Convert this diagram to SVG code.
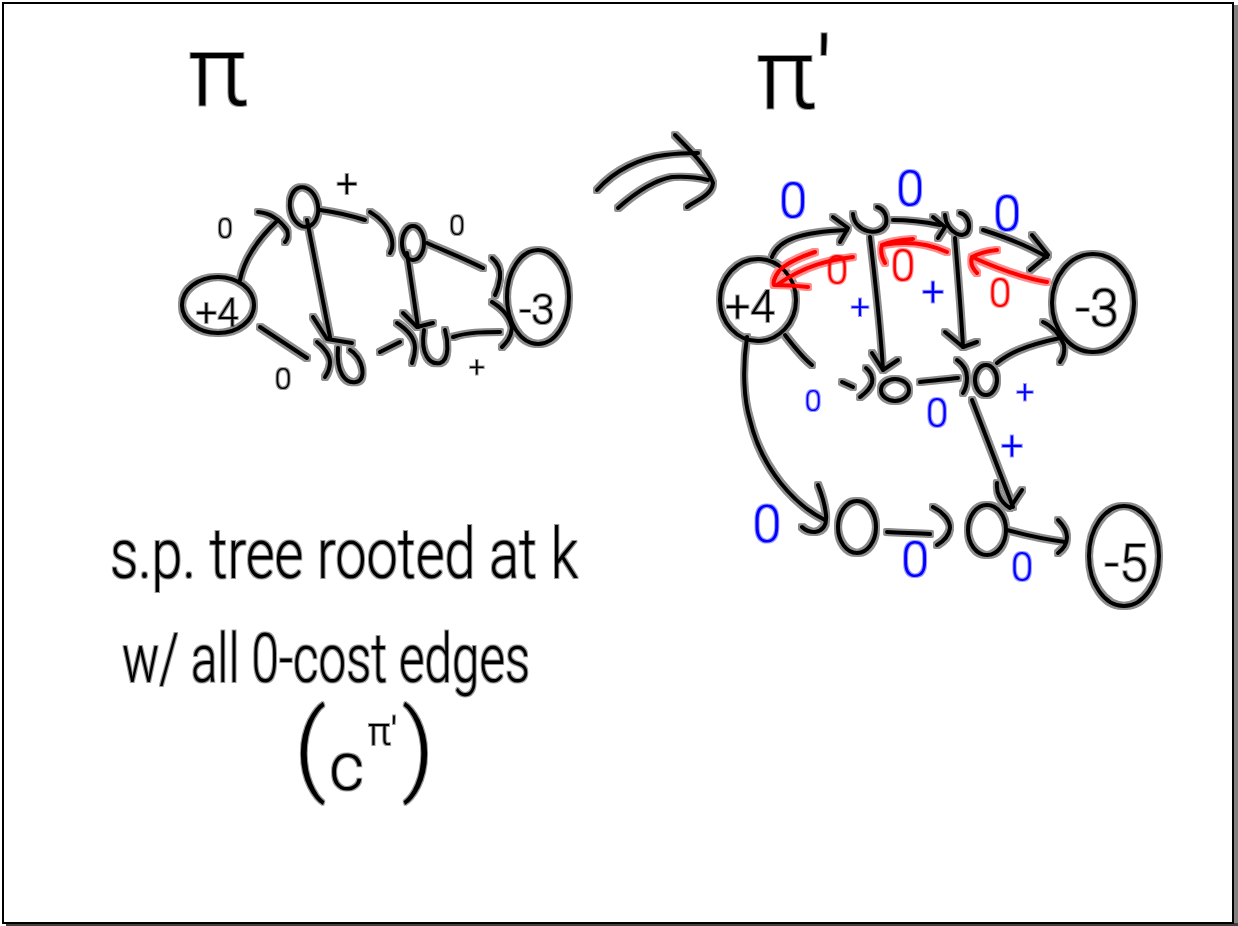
<svg xmlns="http://www.w3.org/2000/svg" width="1238" height="926" viewBox="0 0 1238 926">
<defs>
<filter id="halo" filterUnits="userSpaceOnUse" x="0" y="0" width="1238" height="926">
<feMorphology in="SourceGraphic" operator="dilate" radius="2" result="d"/>
<feComponentTransfer in="d" result="h"><feFuncA type="linear" slope="0.45"/></feComponentTransfer>
<feMerge><feMergeNode in="h"/><feMergeNode in="SourceGraphic"/></feMerge>
</filter>
<filter id="thalo" filterUnits="userSpaceOnUse" x="0" y="0" width="1238" height="926">
<feMorphology in="SourceGraphic" operator="dilate" radius="1.2" result="d"/>
<feComponentTransfer in="d" result="h"><feFuncA type="linear" slope="0.4"/></feComponentTransfer>
<feMerge><feMergeNode in="h"/><feMergeNode in="SourceGraphic"/></feMerge>
</filter>
</defs>
<style>
.k{fill:none;stroke:#000;stroke-width:4;stroke-linecap:round;stroke-linejoin:round}
.r{fill:none;stroke:#ff0000;stroke-width:4;stroke-linecap:round;stroke-linejoin:round}
text{font-family:Roboto,"Liberation Sans",Arial,sans-serif;font-weight:300}
.t{fill:#000}
.tb{fill:#0000ff;text-anchor:middle}
.tr{fill:#ff0000;text-anchor:middle}
.tk{fill:#000;text-anchor:middle}
</style>
<rect x="0" y="0" width="1238" height="926" fill="#ffffff"/>
<rect x="1234" y="5" width="4" height="921" fill="#808080"/>
<rect x="6" y="923" width="1232" height="3" fill="#404040"/>
<rect x="3" y="3" width="1230" height="920" fill="none" stroke="#000" stroke-width="2"/>
<g filter="url(#halo)">
<g id="transform-arrow">
<path class="k" d="M 597 190 C 615 170 640 158 665 155 C 680 153 690 153 698 153"/>
<path class="k" d="M 618 208 C 635 193 655 180 672 177 C 690 176 700 178 708 180"/>
<path class="k" d="M 675 135 C 690 150 708 168 713 183 C 712 195 697 200 687 207"/>
</g>
<g id="left-graph">
<g id="L-plus4"><ellipse class="k" cx="218" cy="305" rx="36" ry="28"/></g>
<g id="L-a"><ellipse class="k" cx="304" cy="207" rx="14" ry="20" transform="rotate(-10 304 207)"/></g>
<g id="L-b"><ellipse class="k" cx="413" cy="243" rx="11" ry="17"/></g>
<g id="L-minus3"><ellipse class="k" cx="538" cy="297" rx="31" ry="47"/></g>
<g id="L-c"><path class="k" d="M 338 348 C 336 372 345 384 356 382 C 368 380 362 356 350 350"/></g>
<g id="L-d"><path class="k" d="M 424 330 C 420 355 430 365 440 363 C 450 360 448 340 445 330"/></g>
</g>
<g id="right-graph">
<g id="R-plus4"><ellipse class="k" cx="758" cy="300" rx="38" ry="41"/></g>
<g id="R-minus3"><ellipse class="k" cx="1093" cy="303" rx="41" ry="49"/></g>
<g id="R-a"><path class="k" d="M 853 214 C 854 232 880 238 886 224 C 888 214 882 208 877 207"/></g>
<g id="R-b"><path class="k" d="M 945 215 C 946 233 966 242 969 228 C 970 220 965 214 960 213"/></g>
<g id="R-c"><ellipse class="k" cx="895" cy="390" rx="14" ry="11"/></g>
<g id="R-d"><ellipse class="k" cx="986" cy="380" rx="11" ry="15"/></g>
<g id="R-f"><ellipse class="k" cx="857" cy="527" rx="19" ry="26"/></g>
<g id="R-e"><ellipse class="k" cx="987" cy="530" rx="19" ry="25"/></g>
<g id="R-minus5"><ellipse class="k" cx="1124" cy="556" rx="35" ry="50"/></g>
</g>
<g id="connectors">
<path class="k" d="M 240 280 C 245 255 262 235 278 220"/>
<path class="k" d="M 258 212 C 270 213 280 220 287 230 C 289 236 287 240 285 242"/>
<path class="k" d="M 320 210 C 335 212 352 216 365 220"/>
<path class="k" d="M 370 212 C 380 218 390 228 392 240 C 393 246 392 250 390 253"/>
<path class="k" d="M 427 243 C 445 251 465 259 483 268"/>
<path class="k" d="M 492 258 C 498 263 501 270 500 278 C 499 285 497 291 495 295"/>
<path class="k" d="M 307 220 L 330 337"/>
<path class="k" d="M 313 317 L 327 339 L 352 343"/>
<path class="k" d="M 407 253 L 418 327"/>
<path class="k" d="M 403 313 L 417 327 L 433 323"/>
<path class="k" d="M 260 327 L 307 358"/>
<path class="k" d="M 317 342 C 325 348 330 356 330 362 C 330 370 327 374 325 377"/>
<path class="k" d="M 380 352 L 400 342"/>
<path class="k" d="M 397 323 C 408 330 415 338 415 348 C 415 355 413 360 412 363"/>
<path class="k" d="M 453 337 C 468 332 485 332 500 332"/>
<path class="k" d="M 492 302 C 502 308 510 317 512 328 C 511 338 506 343 502 347"/>
<path class="k" d="M 772 257 C 778 240 800 232 847 230"/>
<path class="k" d="M 833 217 L 848 228 L 840 242"/>
<path class="k" d="M 893 220 C 910 220 925 222 940 225"/>
<path class="k" d="M 933 217 L 945 227 L 938 238"/>
<path class="k" d="M 983 230 C 1005 237 1028 246 1047 257"/>
<path class="k" d="M 1032 235 L 1048 255 L 1030 270"/>
<path class="k" d="M 870 237 C 875 280 880 320 883 370"/>
<path class="k" d="M 872 353 L 883 370 L 898 360"/>
<path class="k" d="M 955 238 C 958 275 961 310 963 347"/>
<path class="k" d="M 945 332 L 963 347 L 977 342"/>
<path class="k" d="M 785 335 C 795 348 803 358 812 365"/>
<path class="k" d="M 842 382 L 853 387"/>
<path class="k" d="M 866 368 C 871 372 873 378 872 383 C 870 390 864 394 860 397"/>
<path class="k" d="M 920 382 C 933 381 946 379 958 378"/>
<path class="k" d="M 957 360 C 963 364 967 370 967 378 C 967 385 965 390 963 393"/>
<path class="k" d="M 997 363 C 1008 354 1023 346 1060 338"/>
<path class="k" d="M 1043 322 C 1052 326 1060 335 1064 345 C 1065 352 1063 358 1060 362"/>
<path class="k" d="M 747 337 C 742 370 744 400 750 420 C 762 470 795 505 825 520"/>
<path class="k" d="M 818 485 C 822 495 825 505 826 515 C 827 525 823 531 815 532 C 810 532 805 530 802 527"/>
<path class="k" d="M 972 400 L 1013 507"/>
<path class="k" d="M 997 483 C 996 492 1000 502 1010 508 L 1022 490"/>
<path class="k" d="M 887 532 C 902 533 917 533 930 534"/>
<path class="k" d="M 933 507 C 943 512 950 520 950 528 C 949 536 944 541 937 545"/>
<path class="k" d="M 1007 530 C 1020 533 1030 537 1065 542"/>
<path class="k" d="M 1058 520 C 1063 525 1067 530 1067 537 C 1067 545 1062 550 1058 553"/>
<path class="r" d="M 853 257 C 830 260 805 265 777 285"/>
<path class="r" d="M 815 252 C 800 257 786 263 779 271 C 774 278 773 283 774 285 C 785 285 798 286 808 287"/>
<path class="r" d="M 947 252 C 928 243 905 241 882 245"/>
<path class="r" d="M 913 239 C 900 240 890 241 882 245 C 880 252 882 258 885 263"/>
<path class="r" d="M 1047 282 C 1030 279 1005 272 972 257"/>
<path class="r" d="M 997 250 C 987 251 978 254 972 257 C 970 263 973 269 977 273"/>
</g>
</g>
<g filter="url(#thalo)">
<g id="titles">
<text class="t" x="188" y="105" font-size="100">π</text>
<text class="t" x="756" y="108" font-size="100">π'</text>
</g>
<g id="node-texts">
<text class="tk" x="217" y="326" font-size="38">+4</text>
<text class="tk" x="537" y="324" font-size="42">-3</text>
<text class="tk" x="750" y="322" font-size="44">+4</text>
<text class="tk" x="1097" y="326" font-size="52">-3</text>
<text class="tk" x="1126" y="581" font-size="52">-5</text>
</g>
<g id="labels">
<text class="tk" x="225" y="238" font-size="28">0</text>
<text class="tk" x="347" y="197" font-size="38">+</text>
<text class="tk" x="457" y="235" font-size="28">0</text>
<text class="tk" x="283" y="389" font-size="30">0</text>
<text class="tk" x="477" y="377" font-size="28">+</text>
<text class="tb" x="793" y="218" font-size="50">0</text>
<text class="tb" x="910" y="206" font-size="50">0</text>
<text class="tb" x="1007" y="231" font-size="50">0</text>
<text class="tr" x="837" y="284" font-size="40">0</text>
<text class="tr" x="903" y="281" font-size="44">0</text>
<text class="tr" x="1000" y="307" font-size="40">0</text>
<text class="tb" x="860" y="318" font-size="34">+</text>
<text class="tb" x="933" y="306" font-size="40">+</text>
<text class="tb" x="813" y="411" font-size="30">0</text>
<text class="tb" x="937" y="427" font-size="40">0</text>
<text class="tb" x="1025" y="403" font-size="32">+</text>
<text class="tb" x="1012" y="460" font-size="40">+</text>
<text class="tb" x="767" y="542" font-size="52">0</text>
<text class="tb" x="915" y="577" font-size="50">0</text>
<text class="tb" x="1022" y="581" font-size="40">0</text>
</g>
<g id="note">
<text class="t" x="110" y="578" font-size="70" textLength="468" lengthAdjust="spacingAndGlyphs">s.p. tree rooted at k</text>
<text class="t" x="122" y="682" font-size="68" textLength="408" lengthAdjust="spacingAndGlyphs">w/ all 0-cost edges</text>
<text class="t" font-size="100"><tspan x="294" y="782">(</tspan><tspan x="329" y="790" font-size="68">c</tspan><tspan x="368" y="745" font-size="38">π'</tspan><tspan x="402" y="782">)</tspan></text>
</g>
</g>
</svg>
